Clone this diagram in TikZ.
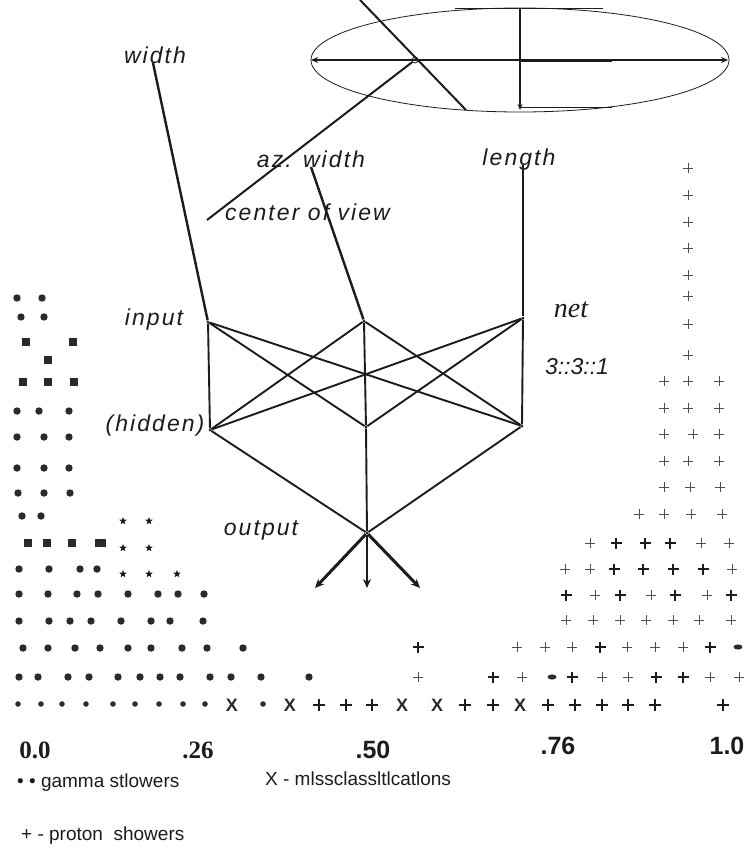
\documentclass[tikz,border=0pt]{standalone}
\usepackage{fontspec}
\setmainfont{Liberation Sans}
\newfontfamily\labfont[LetterSpace=9]{Liberation Sans}
\newfontfamily\seriffont{Liberation Serif}
\usetikzlibrary{arrows.meta}
\definecolor{ink}{HTML}{1C1C1C}
\definecolor{dotc}{HTML}{2A2A2A}
\definecolor{plusc}{HTML}{505050}
\tikzset{
  lab/.style={font=\labfont\fontsize{23}{26}\selectfont\itshape, text=ink, inner sep=0pt, anchor=base},
  netlab/.style={font=\seriffont\fontsize{28}{30}\selectfont\itshape, text=ink, inner sep=0pt, anchor=base},
  ratio/.style={font=\fontsize{23}{25}\selectfont\itshape, text=ink, inner sep=0pt, anchor=base},
  ticks/.style={font=\fontsize{25}{27}\selectfont\bfseries, text=ink, inner sep=0pt, anchor=base},
  tickserif/.style={font=\seriffont\fontsize{25}{27}\selectfont\bfseries, text=ink, inner sep=0pt, anchor=base},
  legend/.style={font=\fontsize{19}{21}\selectfont, text=ink, inner sep=0pt, anchor=base west},
  xmark/.style={font=\fontsize{18}{20}\selectfont\bfseries, text=dotc, inner sep=0pt},
  netpt/.style={circle, fill=ink, inner sep=0pt, minimum size=3pt},
  ell/.style={draw=ink, line width=0.8pt},
  axisline/.style={draw=ink, line width=2pt},
  feed/.style={draw=ink, line width=2.4pt},
  wire/.style={draw=ink, line width=1.9pt},
  outarrow/.style={draw=ink, line width=3pt, -{Stealth[length=9pt,width=8pt]}},
  dotm/.pic={\fill[dotc] (0,0) circle (3.7);},
  sdot/.pic={\fill[dotc] (0,0) circle (2.8);},
  oval/.pic={\fill[dotc] (0,0) ellipse [x radius=4.5, y radius=2.6];},
  sqm/.pic={\fill[dotc] (-4.2,-3.6) rectangle (4.2,3.6);},
  sqw/.pic={\fill[dotc] (-5.5,-3.6) rectangle (5.5,3.6);},
  starm/.pic={\fill[ink] (270:4) -- (306:1.7) -- (342:4) -- (18:1.7) -- (54:4) -- (90:1.7) -- (126:4) -- (162:1.7) -- (198:4) -- (234:1.7) -- cycle;},
  pth/.pic={\draw[plusc, line width=0.8pt] (-5,0) -- (5,0) (0,-5) -- (0,5);},
  pbd/.pic={\draw[ink, line width=1.8pt] (-5.5,0) -- (5.5,0) (0,-5.5) -- (0,5.5);},
  pbig/.pic={\draw[ink, line width=2.4pt] (-6,0) -- (6,0) (0,-6) -- (0,6);}
}
\begin{document}
\begin{tikzpicture}[x=1pt,y=-1pt]
\useasboundingbox (0,0) rectangle (749,855);
\fill[white] (0,0) rectangle (749,855);

% ---- ellipse (image plane)
\draw[ell] (520,60) ellipse [x radius=209, y radius=52];
\coordinate (t1) at (455,8); \coordinate (t2) at (603,8);
\coordinate (b1) at (520,107); \coordinate (b2) at (612,107);
\draw[ell] (t1) -- (t2);
\draw[ell] (b1) -- (b2);
\coordinate (el) at (311,60); \coordinate (er) at (728,60);
\draw[axisline, line width=1.8pt, {Stealth[length=7pt,width=6pt]}-{Stealth[length=7pt,width=6pt]}] (el) -- (er);
\coordinate (m1) at (520,60); \coordinate (m2) at (612,60);
\draw[axisline, line width=3pt] (m1) -- (m2);
\coordinate (vt) at (520,8); \coordinate (vb) at (520,110);
\draw[axisline, -{Stealth[length=6pt,width=5pt]}] (vt) -- (vb);
\coordinate (d1) at (360,0); \coordinate (d2) at (466,110);
\draw[axisline] (d1) -- (d2);
\node[circle, draw=ink, line width=0.8pt, inner sep=0pt, minimum size=6pt] (ec) at (415,60) {};
\coordinate (cv) at (207,220);
\draw[axisline] (ec) -- (cv);

% ---- labels
\node[lab] (lwidth) at (155,63) {width};
\node[lab] (laz) at (311,167) {az. width};
\node[lab] (llen) at (519,165) {length};
\node[lab, anchor=base west] (lcv) at (225,220) {center of view};
\node[lab] (linput) at (154,325) {input};
\node[lab] (lhid) at (155,431) {(hidden)};
\node[lab] (lout) at (261,535) {output};
\node[netlab] (lnet) at (571,317) {net};
\node[ratio] (lratio) at (577,374) {3::3::1};

% ---- network
\node[netpt] (i1) at (208,322) {};
\node[netpt] (i2) at (364,321) {};
\node[netpt] (i3) at (523,318) {};
\node[netpt] (h1) at (210,430) {};
\node[netpt] (h2) at (366,427) {};
\node[netpt] (h3) at (522,426) {};
\node[netpt] (o) at (367,533) {};
\coordinate (oa1) at (315,588);
\coordinate (oa2) at (367,588);
\coordinate (oa3) at (420,588);

\draw[feed] ([xshift=-2pt]lwidth.base) -- (i1);
\draw[feed] (laz.base) -- (i2);
\draw[feed] ([xshift=4pt]llen.base) -- (i3);
\foreach \a in {i1,i2,i3}
  \foreach \b in {h1,h2,h3}
    \draw[wire] (\a) -- (\b);
\foreach \b in {h1,h2,h3}
  \draw[wire] (\b) -- (o);
\draw[outarrow] (o) -- (oa1);
\draw[outarrow, line width=2.4pt] (o) -- (oa2);
\draw[outarrow] (o) -- (oa3);

% ---- gamma showers (dots)
\foreach \x/\y in {17/298,42/298,21/317,44/317,
  17/411,39/411,69/411, 17/437,44/437,69/437, 17/468,44/468,69/468, 18/493,44/493,70/493,
  22/516,41/516,
  19/569,49/569,80/569,97/569,
  19/594,48/594,77/594,98/594,128/594,158/594,178/594,204/594,
  19/621,49/621,70/621,91/621,121/621,151/621,170/621,203/621,
  23/648,48/648,75/648,100/648,128/648,151/648,182/648,207/648,243/648,
  19/677,38/677,68/677,89/677,118/677,140/677,160/677,180/677,210/677,231/677,261/677,309/677}
  \pic at (\x,\y) {dotm};
\foreach \x in {18,41,62,86,113,135,159,183,205,263}
  \pic at (\x,704) {sdot};
\foreach \x/\y in {26/342,73/342,48/360,23/382,48/382,74/382,28/543,47/543,72/543}
  \pic at (\x,\y) {sqm};
\pic at (100,543) {sqw};
\foreach \x/\y in {123/521,149/521,123/548,149/548,123/574,149/574,177/574}
  \pic at (\x,\y) {starm};

% ---- misclassifications
\foreach \x [count=\k] in {232,290,402,437,520}
  \node[xmark] (xm\k) at (\x,705) {X};

% ---- proton showers (pluses)
\foreach \y in {168,195,222,248,275,296,324,355}
  \pic at (688,\y) {pth};
\foreach \y in {381,408,461}
  { \pic at (664,\y) {pth}; \pic at (688,\y) {pth}; \pic at (719,\y) {pth}; }
\pic at (664,434) {pth}; \pic at (693,434) {pth}; \pic at (719,434) {pth};
\pic at (664,487) {pth}; \pic at (690,487) {pth}; \pic at (720,487) {pth};
\foreach \x in {639,664,691,722} \pic at (\x,514) {pth};
\foreach \x in {590,701,729} \pic at (\x,543) {pth};
\foreach \x in {616,645,670} \pic at (\x,543) {pbd};
\foreach \x in {565,590,732} \pic at (\x,569) {pth};
\foreach \x in {614,643,673,703} \pic at (\x,569) {pbd};
\foreach \x in {595,651,707} \pic at (\x,595) {pth};
\foreach \x in {566,620,675,731} \pic at (\x,595) {pbd};
\foreach \x in {566,593,620,646,673,699,731} \pic at (\x,620) {pth};
\foreach \x in {517,545,572,627,655,683} \pic at (\x,647) {pth};
\foreach \x in {418,600,710} \pic at (\x,647) {pbd};
\pic at (738,647) {oval};
\foreach \x in {418,522,602,628,710,739} \pic at (\x,677) {pth};
\foreach \x in {493,572,656,683} \pic at (\x,677) {pbd};
\pic at (552,677) {oval};
\foreach \x in {319,346,372,465,493,548,575,602,628,655,723}
  \pic at (\x,705) {pbig};

% ---- axis values
\node[tickserif] (v0) at (35,758) {0.0};
\node[tickserif] (v26) at (198,758) {.26};
\node[ticks] (v50) at (373,758) {.50};
\node[ticks] (v76) at (558,754) {.76};
\node[ticks] (v1) at (727,754) {1.0};

% ---- legend
\node[legend] (lg1) at (17,787) {• • gamma stlowers};
\node[legend] (lg2) at (265,785) {X - mlssclassltlcatlons};
\node[legend] (lg3) at (21,840) {+ - proton\ \ showers};
\end{tikzpicture}
\end{document}
